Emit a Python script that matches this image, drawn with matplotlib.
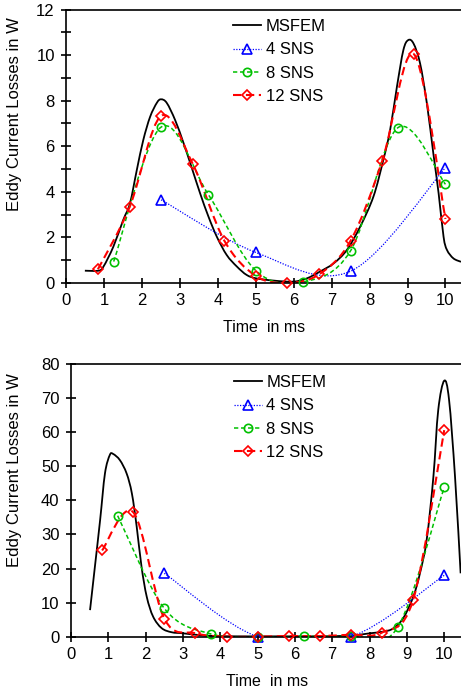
import numpy as np
import matplotlib
matplotlib.use("Agg")
import matplotlib.pyplot as plt
from matplotlib.path import Path
from matplotlib.patches import PathPatch
from matplotlib.lines import Line2D
from matplotlib.ticker import MultipleLocator

plt.rcParams['font.family'] = ['Liberation Sans', 'DejaVu Sans']

# ---------------- data: top panel ----------------
top_ms_x = [0.49, 0.85, 0.98, 1.24, 1.50, 1.68, 1.86, 2.03, 2.21, 2.39, 2.50, 2.65, 2.87, 3.09,
            3.31, 3.53, 3.75, 3.97, 4.23, 4.50, 4.76, 5.02, 5.50, 5.99, 6.34, 6.69, 7.05, 7.40,
            7.75, 8.10, 8.36, 8.54, 8.72, 8.89, 9.02, 9.16, 9.33, 9.51, 9.68, 9.82, 9.95, 10.04,
            10.21, 10.41]
top_ms_y = [0.54, 0.54, 0.72, 1.59, 2.76, 3.50, 4.96, 6.27, 7.29, 7.91, 8.06, 7.90, 7.15, 6.15,
            5.05, 3.93, 2.91, 2.03, 1.23, 0.72, 0.35, 0.20, 0.10, 0.06, 0.20, 0.50, 0.86, 1.45,
            2.47, 3.79, 5.39, 6.71, 8.61, 10.22, 10.66, 10.50, 9.64, 7.88, 5.69, 3.93, 2.03, 1.45,
            1.08, 0.93]
top_4_x = [2.5, 5.0, 7.5, 10.0]
top_4_y = [3.65, 1.34, 0.52, 5.06]
top_8_x = [1.25, 2.5, 3.75, 5.0, 6.25, 7.5, 8.75, 10.0]
top_8_y = [0.94, 6.84, 3.87, 0.54, 0.05, 1.42, 6.82, 4.33]
top_12_x = [0.833, 1.667, 2.5, 3.333, 4.167, 5.0, 5.833, 6.667, 7.5, 8.333, 9.167, 10.0]
top_12_y = [0.60, 3.32, 7.33, 5.23, 1.86, 0.31, 0.00, 0.38, 1.86, 5.36, 10.04, 2.81]

# ---------------- data: bottom panel ----------------
bot_ms_x = [0.51, 0.64, 0.78, 0.91, 1.04, 1.13, 1.31, 1.49, 1.63, 1.76, 1.89, 2.03, 2.20, 2.43,
            2.70, 3.00, 3.64, 4.50, 5.50, 6.50, 7.47, 8.01, 8.37, 8.63, 8.90, 9.17, 9.35, 9.53,
            9.71, 9.84, 10.00, 10.13, 10.29, 10.44]
bot_ms_y = [7.8, 20.5, 34.2, 47.9, 53.3, 53.6, 51.8, 47.9, 42.1, 32.3, 20.5, 11.7, 5.9, 2.5,
            1.3, 1.0, 0.3, 0.1, 0.1, 0.1, 0.3, 1.0, 1.5, 2.4, 5.4, 11.7, 18.6, 28.4,
            46.9, 66.5, 75.1, 69.5, 46.9, 18.6]
bot_4_x = [2.5, 5.0, 7.5, 10.0]
bot_4_y = [18.6, 0.0, 0.0, 18.0]
bot_8_x = [1.25, 2.5, 3.75, 5.0, 6.25, 7.5, 8.75, 10.0]
bot_8_y = [35.5, 8.3, 0.8, 0.0, 0.1, 0.3, 2.7, 43.8]
bot_12_x = [0.833, 1.667, 2.5, 3.333, 4.167, 5.0, 5.833, 6.667, 7.5, 8.333, 9.167, 10.0]
bot_12_y = [25.3, 36.5, 5.3, 1.0, 0.0, 0.0, 0.2, 0.2, 0.6, 1.2, 10.8, 60.6]

labels = ["MSFEM", "4 SNS", "8 SNS", "12 SNS"]

BLACK = "#000000"
BLUE = "#0000FF"
GREEN = "#00C000"
RED = "#FF0000"

W, H = 461, 692
fig = plt.figure(figsize=(W / 100, H / 100), dpi=100)


def smooth_patch(ax, x, y, **kw):
    P = np.column_stack([x, y]).astype(float)
    n = len(P)
    verts = [P[0]]
    codes = [Path.MOVETO]
    for i in range(n - 1):
        p0 = P[i - 1] if i > 0 else P[i]
        p1 = P[i]
        p2 = P[i + 1]
        p3 = P[i + 2] if i + 2 < n else P[i + 1]
        c1 = p1 + (p2 - p0) / 6.0
        c2 = p2 - (p3 - p1) / 6.0
        verts += [c1, c2, p2]
        codes += [Path.CURVE4] * 3
    patch = PathPatch(Path(verts, codes), fill=False, **kw)
    ax.add_patch(patch)


styles = [
    dict(color=BLACK, lw=1.3, ls='-', marker=None),
    dict(color=BLUE, lw=0.9, ls=(0, (1, 1.2)), marker='^'),
    dict(color=GREEN, lw=1.1, ls=(0, (2.8, 1.8)), marker='o'),
    dict(color=RED, lw=1.5, ls=(0, (4, 2.2)), marker='D'),
]
msizes = [0, 6.5, 6, 5.5]


def panel(rect_px, xmax, ymax, ymajor, yminor, series, leg_px, ylab_px, xlab_px):
    l, t, r, b = rect_px
    ax = fig.add_axes([l / W, 1 - b / H, (r - l) / W, (b - t) / H])
    ax.set_xlim(0, xmax)
    ax.set_ylim(0, ymax)
    for (x, y), st, ms in zip(series, styles, msizes):
        smooth_patch(ax, x, y, edgecolor=st['color'], lw=st['lw'], linestyle=st['ls'],
                     capstyle='butt', joinstyle='round', zorder=2)
        if st['marker']:
            ax.plot(x, y, ls='none', marker=st['marker'], ms=ms, mfc='none',
                    mec=st['color'], mew=1.2, clip_on=False, zorder=3)
    ax.spines['right'].set_visible(False)
    for s in ['left', 'bottom', 'top']:
        ax.spines[s].set_linewidth(1.2)
    ax.xaxis.set_major_locator(MultipleLocator(1))
    ax.yaxis.set_major_locator(MultipleLocator(ymajor))
    if yminor:
        ax.yaxis.set_minor_locator(MultipleLocator(yminor))
    ax.tick_params(axis='both', which='both', direction='inout', length=6.5, width=1.2,
                   labelsize=12, top=False, right=False)
    ax.tick_params(axis='y', pad=5)
    ax.tick_params(axis='x', pad=4)
    handles = []
    for st, ms in zip(styles, msizes):
        handles.append(Line2D([], [], color=st['color'], lw=st['lw'], ls=st['ls'],
                              marker=st['marker'], ms=ms, mfc='none', mec=st['color'], mew=1.2))
    ax.legend(handles, labels, loc='upper left',
              bbox_to_anchor=(leg_px[0] / W, 1 - leg_px[1] / H),
              bbox_transform=fig.transFigure, frameon=False, fontsize=12,
              handlelength=1.65, handletextpad=0.3, labelspacing=0.5,
              borderpad=0, borderaxespad=0)
    fig.text(ylab_px[0] / W, 1 - ylab_px[1] / H, "Eddy Current Losses in W", rotation=90,
             ha='center', va='center', fontsize=12)
    fig.text(xlab_px[0] / W, 1 - xlab_px[1] / H, "Time  in ms",
             ha='center', va='center', fontsize=11.5)
    return ax


panel((66.3, 9.5, 461, 283.0), 10.41, 12, 2, 1,
      [(top_ms_x, top_ms_y), (top_4_x, top_4_y), (top_8_x, top_8_y), (top_12_x, top_12_y)],
      (233, 19), (15, 114), (264, 327))
panel((71.0, 364.0, 461, 636.7), 10.45, 80, 10, None,
      [(bot_ms_x, bot_ms_y), (bot_4_x, bot_4_y), (bot_8_x, bot_8_y), (bot_12_x, bot_12_y)],
      (234, 375), (15, 470), (267, 681))

fig.savefig("out.png", dpi=100)
